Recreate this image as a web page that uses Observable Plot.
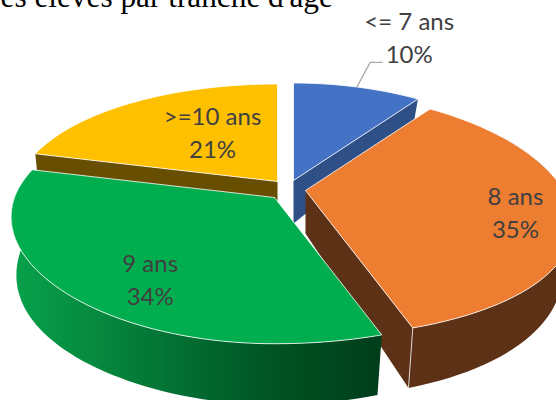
<!DOCTYPE html>
<html><head><meta charset="utf-8">
<style>html,body{margin:0;padding:0;background:#fff;overflow:hidden}svg{display:block}</style>
<script src="https://cdn.jsdelivr.net/npm/d3@7"></script>
<script src="https://cdn.jsdelivr.net/npm/@observablehq/plot@0.6"></script>
</head><body><script>
// Data
const categories = ["<= 7 ans", "8 ans", "9 ans", ">=10 ans"];
const shares = [10, 35, 34, 21];
const titleText = "es élèves par tranche d'âge";

// Styles
const topColors = ["#4472c4", "#ed7d31", "#00ae4f", "#ffc000"];
const cutColors = ["#2f5086", "#5c3115", "#00401f", "#674e00"];

// Layout of the exploded tilted pie
const apexX = [293, 305, 274, 277];
const apexY = [180, 190, 197, 181];
const labelRadius = [1.744, 0.795, 0.7515, 0.53];
const labelTurn = [3.7, 4.2, -8.2, 7.4];
const RxRight = 258, RxLeft = 260, kxRight = 0.27, kxLeft = 0.16, Ry = 117, ky = 0.2, depth0 = 43, depthK = 18, depthLeft = 13, baseRight = 0.96, baseLeft = 0.98;

const total = d3.sum(shares);
const starts = shares.map((_, i) => d3.sum(shares.slice(0, i)) / total * 360);
const ends = shares.map((_, i) => d3.sum(shares.slice(0, i + 1)) / total * 360);

function project(i, deg, r = 1) {
  const a = deg * Math.PI / 180, u = r * Math.sin(a), v = -r * Math.cos(a);
  const Rx = u >= 0 ? RxRight : RxLeft, kx = u >= 0 ? kxRight : kxLeft;
  return {x: apexX[i] + Rx * u / (1 - kx * v), y: apexY[i] + Ry * v / (1 - ky * v), v, u};
}
function base(i, deg, r = 1) {
  const p = project(i, deg, r);
  const s = p.u >= 0 ? baseRight : baseLeft;
  return {x: apexX[i] + s * (p.x - apexX[i]), y: p.y + depth0 + depthK * p.v + depthLeft * Math.max(0, -p.u) ** 3};
}
const degs = (a, b) => { const n = Math.max(2, Math.ceil((b - a) / 2)); return d3.range(n + 1).map(j => a + (b - a) * j / n); };
const topPoly = i => [project(i, 0, 0), ...degs(starts[i], ends[i]).map(d => project(i, d)), project(i, 0, 0)];
const wallPoly = (i, a, b) => { const ds = degs(a, b); return [...ds.map(d => project(i, d)), ...ds.slice().reverse().map(d => base(i, d))]; };
const cutPoly = (i, d) => [project(i, 0, 0), project(i, d), base(i, d), base(i, 0, 0), project(i, 0, 0)];

const line = (pts, o) => Plot.line(pts, {x: "x", y: "y", curve: "linear", stroke: "none", ...o});
const edge = {stroke: "#ffffff", strokeWidth: 1, strokeOpacity: 0.8, strokeLinejoin: "round"};

const mid = i => (starts[i] + ends[i]) / 2;
const labels = categories.map((c, i) => ({
  ...project(i, mid(i) + labelTurn[i], labelRadius[i]),
  text: `${c}\n${shares[i]}%`
}));
const leaderStart = project(0, mid(0));
const leader = [leaderStart, {x: labels[0].x - 39, y: labels[0].y + 25}, {x: labels[0].x - 27, y: labels[0].y + 25}];

const gradient = () => d3.create("svg:defs").html(`<linearGradient id="greenWall" x1="0" x2="1" y1="0" y2="0">
  <stop offset="0" stop-color="#07a24b"/><stop offset="0.22" stop-color="#068a3f"/>
  <stop offset="0.5" stop-color="#026a30"/><stop offset="0.72" stop-color="#005222"/>
  <stop offset="1" stop-color="#003d1b"/></linearGradient>`).node();

const slice = (i, extra) => [...extra, line(topPoly(i), {fill: topColors[i], ...edge})];

const chart = Plot.plot({
  width: 556, height: 400, margin: 0,
  x: {domain: [0, 556], range: [0, 556], axis: null},
  y: {domain: [0, 400], range: [0, 400], axis: null},
  marks: [
    gradient,
    Plot.text([titleText], {x: () => 0, y: () => -4, text: d => d, textAnchor: "start", lineAnchor: "middle",
      fontFamily: "Liberation Serif", fontSize: 31.3, fill: "#000"}),
    ...slice(0, [line(cutPoly(0, ends[0]), {fill: cutColors[0]})]),
    ...slice(3, [line(cutPoly(3, starts[3]), {fill: cutColors[3]})]),
    ...slice(1, [
      line(cutPoly(1, ends[1]), {fill: cutColors[1]}),
      line(wallPoly(1, 60, ends[1]), {fill: cutColors[1]}),
      line([project(1, ends[1]), base(1, ends[1])], {stroke: "#d8d3cc", strokeWidth: 1})
    ]),
    ...slice(2, [
      line(wallPoly(2, starts[2], 275), {fill: "url(#greenWall)"})
    ]),
    line(leader, {stroke: "#a6a6a6", strokeWidth: 1.3}),
    Plot.text(labels, {x: "x", y: "y", dy: -1.5, text: "text", fontFamily: "Lato", fontSize: 24, lineHeight: 1.375, fill: "#404040", textAnchor: "middle"})
  ]
});
document.body.appendChild(chart);
</script></body></html>
